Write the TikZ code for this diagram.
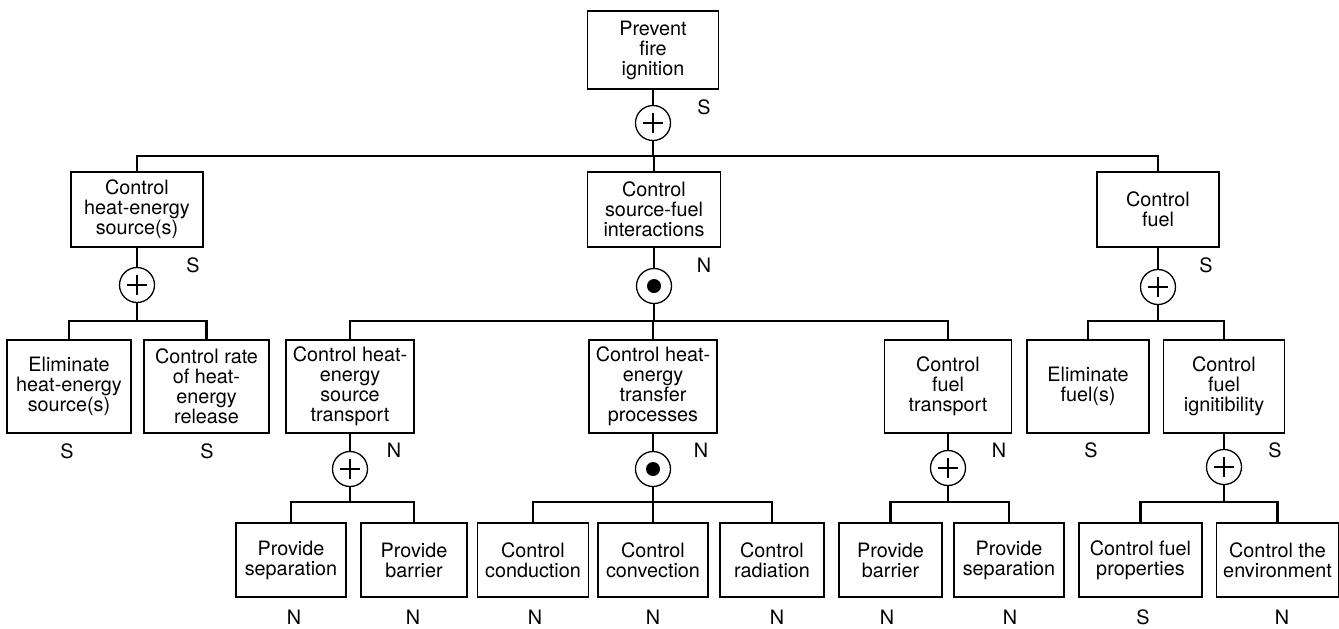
\documentclass[tikz,border=0pt]{standalone}
\usepackage{fontspec}
\setmainfont{TeX Gyre Heros}
\usetikzlibrary{calc}
\tikzset{
  box/.style 2 args={draw, line width=0.8pt, align=center, inner sep=0pt,
    minimum width=#1*0.5pt, minimum height=#2*0.5pt},
  gateor/.style={circle, draw, line width=0.65pt, fill=white, minimum size=17.5pt, inner sep=0pt,
    path picture={\draw[line width=1.2pt] ([xshift=-5pt]path picture bounding box.center) -- ([xshift=5pt]path picture bounding box.center)
      ([yshift=-5pt]path picture bounding box.center) -- ([yshift=5pt]path picture bounding box.center);}},
  gateand/.style={circle, draw, line width=0.65pt, fill=white, minimum size=17.5pt, inner sep=0pt,
    path picture={\fill[black] (path picture bounding box.center) circle (3.5pt);}},
  wire/.style={line width=1.1pt},
  tag/.style={inner sep=0pt}
}
\begin{document}
\begin{tikzpicture}[x=0.5pt,y=-0.5pt,every node/.style={font=\fontsize{9.9}{10}\selectfont}]
\useasboundingbox (0,0) rectangle (1339,628);
% goals
\node[box={131}{78}] (p) at (653,50) {Prevent\\fire\\ignition};
\node[box={132}{75}] (a) at (137,209.5) {Control\\heat-energy\\source(s)};
\node[box={133}{75}] (b) at (654,209.5) {Control\\source-fuel\\interactions};
\node[box={122}{75}] (c) at (1158,209.5) {Control\\fuel};
\node[box={124}{93}] (a1) at (69,386.5) {Eliminate\\heat-energy\\source(s)};
\node[box={125}{93}] (a2) at (206.5,386.5) {Control rate\\of heat-\\energy\\release};
\node[box={128}{93}] (b1) at (350,386.5) {Control heat-\\energy\\source\\transport};
\node[box={128}{93}] (b2) at (653,386.5) {Control heat-\\energy\\transfer\\processes};
\node[box={127}{93}] (b3) at (948,386.5) {Control\\fuel\\transport};
\node[box={122}{93}] (c1) at (1088,386.5) {Eliminate\\fuel(s)};
\node[box={121}{93}] (c2) at (1224,386.5) {Control\\fuel\\ignitibility};
\node[box={110}{74}] (b11) at (291,560) {Provide\\separation};
\node[box={106}{74}] (b12) at (414,560) {Provide\\barrier};
\node[box={111}{74}] (b21) at (533,560) {Control\\conduction};
\node[box={110}{74}] (b22) at (653,560) {Control\\convection};
\node[box={104}{74}] (b23) at (772,560) {Control\\radiation};
\node[box={103}{74}] (b31) at (890.5,560) {Provide\\barrier};
\node[box={110}{74}] (b32) at (1009,560) {Provide\\separation};
\node[box={123}{74}] (c21) at (1140.5,560) {Control fuel\\properties};
\node[box={122}{74}] (c22) at (1277.5,560) {Control the\\environment};
% gates
\node[gateor] (pg) at (653,123) {};
\node[gateor] (ag) at (137,285) {};
\node[gateand] (bg) at (654,286) {};
\node[gateor] (cg) at (1158,287) {};
\node[gateor] (b1g) at (350,469) {};
\node[gateand] (b2g) at (653,469) {};
\node[gateor] (b3g) at (948,468) {};
\node[gateor] (c2g) at (1224,467) {};
\coordinate (bus0) at (0,156);
\coordinate (bus1) at (0,321);
\coordinate (bus2) at (0,502);
% connectors
\foreach \g/\n in {p/pg,a/ag,b/bg,c/cg,b1/b1g,b2/b2g,b3/b3g,c2/c2g}
  \draw[wire] (\g) -- (\n);
\foreach \c in {a,b,c} \draw[wire] (pg.south) -- (pg |- bus0) -| (\c.north);
\foreach \c in {a1,a2} \draw[wire] (ag.south) -- (ag |- bus1) -| (\c.north);
\foreach \c in {b1,b2,b3} \draw[wire] (bg.south) -- (bg |- bus1) -| (\c.north);
\foreach \c in {c1,c2} \draw[wire] (cg.south) -- (cg |- bus1) -| (\c.north);
\foreach \c in {b11,b12} \draw[wire] (b1g.south) -- (b1g |- bus2) -| (\c.north);
\foreach \c in {b21,b22,b23} \draw[wire] (b2g.south) -- (b2g |- bus2) -| (\c.north);
\foreach \c in {b31,b32} \draw[wire] (b3g.south) -- (b3g |- bus2) -| (\c.north);
\foreach \c in {c21,c22} \draw[wire] (c2g.south) -- (c2g |- bus2) -| (\c.north);
% S / N marks
\foreach \x/\y/\t [count=\i] in {704/107/S,193/265/S,704/265/N,1206/265/S,
    67/451/S,207/451/S,394/450/N,701/450/N,999/450/N,1091/450/S,1275/450/S,
    294/617/N,413/617/N,535/617/N,653/617/N,777/617/N,887/617/N,1010/617/N,1143/617/S,1282/617/N}
  \node[tag] (t\i) at (\x,\y) {\t};
\end{tikzpicture}
\end{document}
